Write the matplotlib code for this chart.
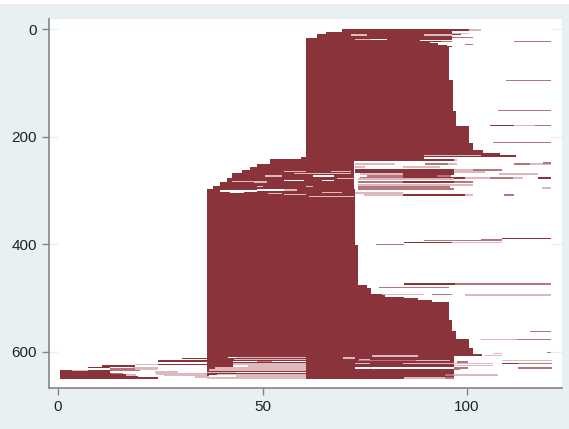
import matplotlib
matplotlib.use('Agg')
import matplotlib.pyplot as plt
from matplotlib.patches import Rectangle

plt.rcParams['font.family'] = ['Liberation Sans', 'DejaVu Sans']

x_ticks = [0, 50, 100]
y_ticks = [0, 200, 400, 600]

# solid blocks: first row, last row, left, right
block_top = [0, 5, 10, 17, 33, 95, 152, 180, 211, 225, 231, 234, 238,
             241, 250, 256, 262, 267, 277, 284, 292,
             298, 401, 475, 482, 492, 497, 500, 503, 508, 541, 562, 576, 592, 604, 608]
block_bottom = [5, 10, 17, 33, 95, 152, 180, 211, 225, 231, 234, 238, 241,
                250, 256, 262, 267, 277, 284, 292, 298,
                401, 475, 482, 492, 497, 500, 503, 508, 541, 562, 576, 592, 604, 608, 650]
block_left = [69.5, 65.4, 63.4, 60.5, 60.5, 60.5, 60.5, 60.5, 60.5, 60.5, 60.5, 60.5, 59.3,
              51.7, 48.7, 47, 45, 42.5, 41.3, 39.6, 38,
              36.5, 36.5, 36.5, 36.5, 36.5, 36.5, 36.5, 36.5, 36.5, 36.5, 36.5, 36.5, 36.5, 36.5, 36.5]
block_right = [96.4, 96.4, 96.4, 96.4, 95.5, 96.5, 97.4, 100.4, 101.5, 104, 108, 112, 89.5,
               72.4, 72.4, 72.4, 72.4, 72.4, 72.4, 72.4, 72.4,
               72.5, 73.4, 75.6, 76.5, 80, 84.6, 88, 91.5, 95.5, 96.4, 97.4, 100.4, 101.5, 103.6, 96.7]

# single rows: row, left, right, shade
top_rows = [2, 2, 8, 10, 11, 11, 16, 19, 19, 21.5, 25, 28, 31, 23.5, 28.5, 23.5, 95, 151, 180, 180, 180, 211, 235.5]
top_left = [96.4, 96.4, 96.4, 96.4, 71.6, 89.5, 96.4, 72.5, 76.5, 88.5, 91, 93, 95, 93.6, 99.5, 111.5, 109.5, 107.6, 105.5, 111.5, 116.5, 106.4, 89.5]
top_right = [103.3, 100.5, 100.5, 98.4, 75.5, 96.4, 101.5, 80.5, 80.5, 96.4, 96.4, 96.4, 96.4, 96.4, 101.5, 120.5, 120.5, 120.5, 111.5, 116.5, 120.5, 120.5, 103.3]
top_shade = ['pale', 'dark', 'pale', 'dark', 'pale', 'pale', 'mid', 'pale', 'white', 'white', 'white', 'white', 'white', 'mid', 'mid', 'mid', 'mid', 'mid', 'dark', 'pale', 'mid', 'mid', 'pale']

band_rows = [243.6, 243.6, 251, 251, 251, 256.6, 256.6, 262, 262, 262, 266.5, 266.5, 270, 270, 270,
             273, 273, 273, 276.5, 276.5, 276.5, 276.5, 276.5, 276.5, 279.5, 284, 284, 284,
             290, 290, 294.5, 298, 304, 308.7, 308.7, 308.7, 308.7,
             251, 251, 249, 296]
band_left = [72.4, 96.7, 72.6, 89.7, 95.4, 84.4, 72.6, 72.6, 96.7, 101.5, 72.6, 96.7, 73.8, 84.4, 107.7,
             75.5, 84.4, 92.6, 73.8, 84.4, 99.5, 105.6, 111.3, 117.4, 73.4, 73.4, 84.4, 96.7,
             73.4, 96.7, 73.4, 73.4, 72.6, 74.7, 84.4, 99.5, 108.9,
             111.5, 115.4, 118.5, 118.4]
band_right = [96.7, 97.5, 82.4, 95.4, 97.5, 93.4, 75, 96.7, 101.5, 108.5, 96.7, 104.4, 84.4, 96.7, 117.4,
              84.4, 92.6, 96, 84.4, 99.5, 105.6, 111.3, 113.6, 120.5, 96.7, 84.4, 96.7, 101.5,
              96.7, 101.5, 95.8, 96.7, 84.4, 84.4, 99.5, 101.5, 111.5,
              118.5, 120.5, 120.5, 120.5]
band_shade = ['dark', 'pale', 'pale', 'mid', 'pale', 'pale', 'pale', 'dark', 'pale', 'mid', 'dark', 'pale', 'pale', 'dark', 'pale',
              'mid', 'dark', 'mid', 'mid', 'dark', 'pale', 'mid', 'pale', 'dark', 'pale', 'mid', 'dark', 'mid',
              'pale', 'pale', 'mid', 'mid', 'pale', 'pale', 'dark', 'pale', 'mid',
              'mid', 'pale', 'mid', 'pale']

# light lines cutting through the solid part of the band
cut_rows = [264, 265, 268, 273, 273, 277, 281, 281, 283, 285, 292, 292, 299, 299, 301, 303, 304, 306, 307, 310.5]
cut_left = [55.3, 66.7, 57.7, 62.4, 50.6, 68.3, 55.3, 64.6, 42.5, 47.8, 60.6, 48.6, 55.3, 48.6, 39.6, 42, 64.6, 51.4, 55.3, 61.4]
cut_right = [60.6, 71.6, 71.6, 67.5, 54.7, 72.4, 60.2, 67.5, 51, 51, 62.4, 50.2, 58.5, 55.3, 48.6, 45.5, 69.5, 54.7, 60.6, 72.4]
cut_shade = ['pale', 'pale', 'pale', 'white', 'pale', 'pale', 'white', 'white', 'pale', 'pale', 'pale', 'pale', 'pale', 'white', 'white', 'white', 'pale', 'pale', 'pale', 'pale']

low_rows = [388.6, 392, 393.6, 396.7, 396.7, 400.4,
            474, 474, 480, 493, 493, 494, 562, 576.4, 576.4, 601, 603, 606]
low_left = [108.6, 103.3, 89.5, 84.6, 96.4, 77.7,
            84.6, 97, 78.5, 79.3, 91.5, 99.5, 115.4, 103.3, 112.3, 119.6, 106.4, 104.4]
low_right = [120.5, 108.6, 103.3, 96.4, 108.6, 84.6,
             97, 120.5, 95.5, 89.5, 96.4, 120.5, 120.5, 112.3, 120.5, 120.5, 108.5, 108.5]
low_shade = ['dark', 'mid', 'mid', 'dark', 'pale', 'mid',
             'dark', 'mid', 'mid', 'pale', 'mid', 'pale', 'mid', 'pale', 'mid', 'mid', 'pale', 'pale']

# bottom stripes, left part up to 60.5 then right part
foot_rows = [610.5, 610.5, 614, 618, 618, 622, 626, 626, 630, 634, 638, 638, 642, 645, 645, 648,
             607.4, 611, 611, 614, 615.5, 615.5, 615.5, 618.6, 621.7, 621.7, 621.7, 621.7, 621.7,
             624.8, 629.7, 629.7, 629.7, 629.7, 629.7, 632, 643, 643, 648, 648]
foot_left = [41.5, 43.5, 43, 42.8, 48.6, 42.8, 42.8, 46.5, 38.4, 37, 36.5, 43.5, 38.8, 37, 43.5, 36.5,
             76.7, 69.6, 71.4, 73.6, 73.4, 87.5, 108.5, 97.5, 72.6, 84.4, 96.7, 108.5, 112.5,
             96.7, 72.6, 76.5, 96.7, 112.5, 72.6, 96.7, 94.6, 96.7, 84.6, 94.6]
foot_right = [43.5, 60.5, 60.5, 60.5, 52.2, 60.5, 46.5, 60.5, 60.5, 60.5, 43.5, 60.5, 60.5, 43.5, 60.5, 60.5,
              88.1, 72.6, 72.6, 76.3, 87.5, 95.9, 120.7, 100.3, 76.3, 96.7, 106.4, 112.5, 120.7,
              106.4, 76.5, 96.7, 100.3, 120.7, 76.3, 98.3, 96.7, 107.5, 94.6, 96.7]
foot_shade = ['white', 'pale', 'pale', 'white', 'mid', 'pale', 'white', 'pale', 'pale', 'pale', 'pale', 'white', 'pale', 'white', 'pale', 'pale',
              'pale', 'pale', 'pale', 'pale', 'mid', 'pale', 'pale', 'mid', 'pale', 'pale', 'pale', 'dark', 'mid',
              'pale', 'pale', 'white', 'mid', 'mid', 'white', 'mid', 'mid', 'pale', 'pale', 'mid']

# the tail running out to the left
tail_rows = [612, 617.4, 623.5, 623.5, 626, 629, 629, 631.5, 631.5, 634.5, 634.5, 634.5, 634.5,
             637.5, 637.5, 640.5, 640.5, 640.5, 643.5, 643.5, 643.5, 646.5, 646.5, 649]
tail_left = [30.2, 24.5, 18.8, 24.5, 10.7, 7.4, 18, 12.7, 18.8, 0.5, 3.5, 7.4, 12.7,
             0.5, 23.7, 0.5, 13, 24, 0.5, 16.5, 26, 0.5, 33.5, 0.5]
tail_right = [36.5, 36.5, 24.5, 36.5, 18.8, 12.7, 24.5, 18.8, 24.5, 3.5, 7.4, 12.7, 20,
              12.7, 29.4, 13, 16, 36.5, 16.5, 19, 36.5, 19.5, 36.8, 24.5]
tail_shade = ['dark', 'dark', 'pale', 'dark', 'dark', 'dark', 'pale', 'mid', 'pale', 'dark', 'pale', 'dark', 'mid',
              'dark', 'pale', 'dark', 'mid', 'pale', 'dark', 'pale', 'pale', 'dark', 'pale', 'dark']

shades = {'dark': '#8b333a', 'mid': '#b5757b', 'pale': '#dcb9bc', 'white': '#ffffff'}


def draw_rows(ax, rows, left, right, shade, thick=3.4):
    widths = [r - l for l, r in zip(left, right)]
    colors = [shades[s] for s in shade]
    ax.barh(rows, widths, left=left, height=thick, color=colors, linewidth=0, zorder=3)


fig = plt.figure(figsize=(5.69, 4.29), dpi=100, facecolor='#e8f0f3')
fig.add_artist(Rectangle((0, 1 - 4 / 429), 1, 4 / 429, transform=fig.transFigure, color='white', linewidth=0))
ax = fig.add_axes([49 / 569, 1 - 388 / 429, (562 - 49) / 569, (388 - 19) / 429])

# y gridlines only show outside the white inner region
for t in y_ticks:
    ax.axhline(t, color='#e4eef0', linewidth=0.8, zorder=1)
ax.add_patch(Rectangle((0, 0.8), 120.5, 666, color='white', linewidth=0, zorder=1.5))

heights = [b - t for t, b in zip(block_top, block_bottom)]
widths = [r - l for l, r in zip(block_left, block_right)]
ax.barh(block_top, widths, left=block_left, height=heights, align='edge', color=shades['dark'], linewidth=0, zorder=2)

draw_rows(ax, top_rows, top_left, top_right, top_shade, thick=2.2)
draw_rows(ax, band_rows, band_left, band_right, band_shade, thick=3.8)
draw_rows(ax, cut_rows, cut_left, cut_right, cut_shade, thick=2.2)
draw_rows(ax, low_rows, low_left, low_right, low_shade, thick=2.4)
draw_rows(ax, foot_rows, foot_left, foot_right, foot_shade, thick=2.8)
draw_rows(ax, tail_rows, tail_left, tail_right, tail_shade, thick=3.2)

ax.set_xlim(-2.2, 123.2)
ax.set_ylim(667, -18.6)
ax.set_xticks(x_ticks)
ax.set_yticks(y_ticks)
ax.tick_params(colors='#808585', labelcolor='#222222', labelsize=11, length=5, width=1, pad=3.5)
for side in ['top', 'right']:
    ax.spines[side].set_visible(False)
for side in ['left', 'bottom']:
    ax.spines[side].set_color('#8a8f8f')
    ax.spines[side].set_linewidth(1.3)

fig.savefig('out.png', dpi=100, facecolor=fig.get_facecolor())
